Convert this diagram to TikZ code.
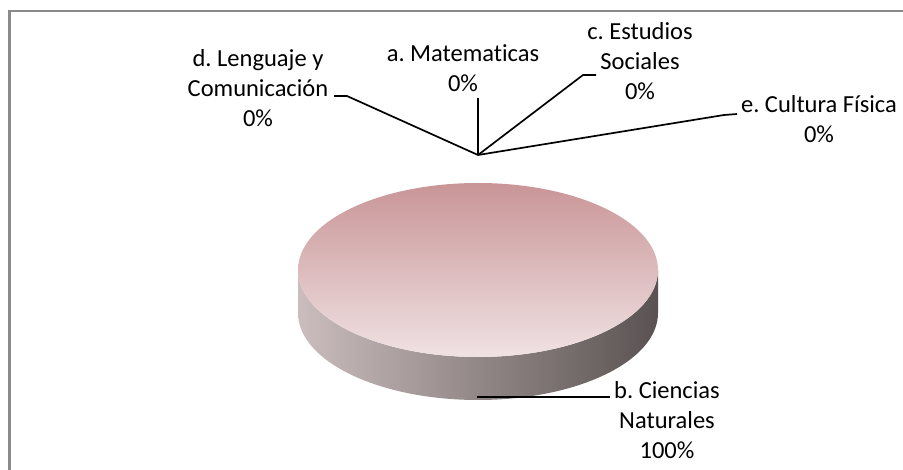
\documentclass[tikz,border=0pt]{standalone}
\usepackage{fontspec}
\setmainfont{Carlito}[Ligatures={NoCommon}]
\frenchspacing
\begin{document}
\begin{tikzpicture}[x=1pt,y=-1pt,
  lbl/.style={align=center,inner sep=0pt,anchor=base,font=\fontsize{24.5pt}{30pt}\selectfont},
  leader/.style={line width=1.7pt,black}]
\useasboundingbox (0,0) rectangle (903,470);
\definecolor{sidel}{HTML}{CBBDBD}
\definecolor{sidem}{HTML}{918888}
\definecolor{sider}{HTML}{5A5252}
\definecolor{topc}{HTML}{C99597}
\definecolor{botc}{HTML}{F0E2E3}
\definecolor{framec}{HTML}{8A8A8A}
% frame (top and left only visible)
\draw[line width=2.5pt,color=framec] (9.3,470) -- (9.3,11) -- (903,11);
% pie side
\shade[left color=sidel, middle color=sidem, right color=sider]
  (298,270) -- (298,313) arc[start angle=180,end angle=0,x radius=180,y radius=87]
  -- (658,270) arc[start angle=0,end angle=180,x radius=180,y radius=87] -- cycle;
% pie top
\shade[top color=topc,bottom color=botc] (478,270) ellipse[x radius=180,y radius=87];
% labels (anchor = baseline of last line)
\node[lbl] (ld) at (258,127) {d. Lenguaje y\\Comunicación\\0\%};
\node[lbl] (la) at (463,92) {a. Matematicas\\0\%};
\node[lbl] (lc) at (640,100) {c. Estudios\\Sociales\\0\%};
\node[lbl] (le) at (819,143) {e. Cultura Física\\0\%};
\node[lbl] (lb) at (667,458) {b. Ciencias\\Naturales\\100\%};
% leader lines
\coordinate (hub) at (478,155);
\coordinate (dend) at (334,96);
\coordinate (dbend) at (347,96);
\coordinate (aend) at (478,98);
\coordinate (cbend) at (583,75);
\coordinate (cend) at (596,75);
\coordinate (ebend) at (724,115);
\coordinate (eend) at (737,114);
\coordinate (bstart) at (477,397);
\coordinate (bend) at (610,397);
\draw[leader] (dend) -- (dbend) -- (hub);
\draw[leader] (aend) -- (hub);
\draw[leader] (cend) -- (cbend) -- (hub);
\draw[leader] (eend) -- (ebend) -- (hub);
\draw[leader] (bstart) -- (bend);
\end{tikzpicture}
\end{document}
